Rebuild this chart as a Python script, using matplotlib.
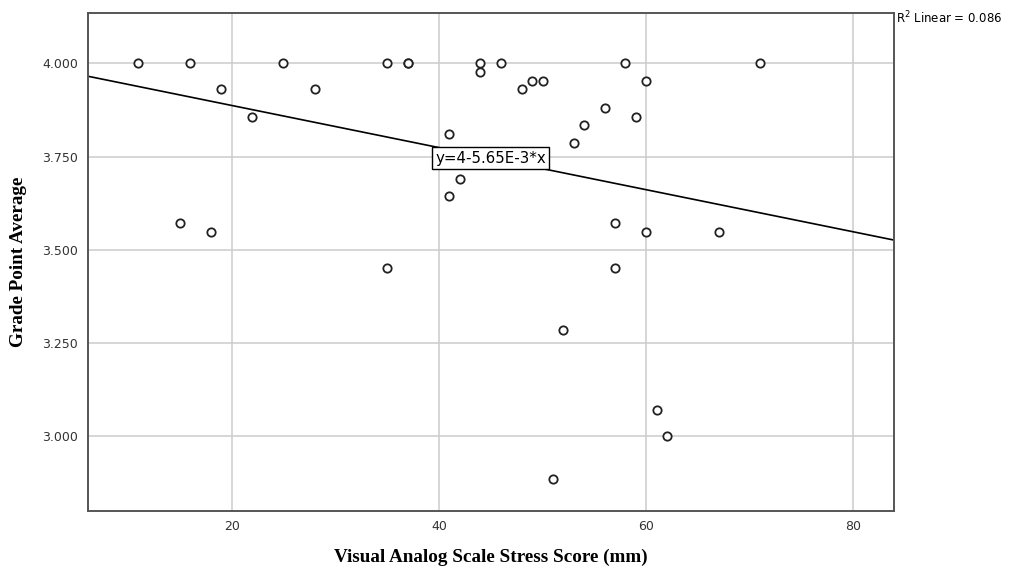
import numpy as np
import matplotlib
matplotlib.use("Agg")
import matplotlib.pyplot as plt
from matplotlib.ticker import FormatStrFormatter

# stress score (mm) and GPA
stress = [11, 16, 19, 22, 25, 28, 15, 18, 35, 37, 37, 35,
          44, 44, 46, 41, 42, 41, 48, 49, 50, 53, 54, 56,
          58, 60, 59, 57, 60, 57, 67, 71, 52, 61, 62, 51]
gpa = [4.000, 4.000, 3.930, 3.857, 4.000, 3.930, 3.571, 3.548, 4.000, 4.000, 4.000, 3.452,
       4.000, 3.976, 4.000, 3.810, 3.690, 3.643, 3.930, 3.952, 3.952, 3.786, 3.834, 3.881,
       4.000, 3.952, 3.857, 3.571, 3.548, 3.452, 3.548, 4.000, 3.286, 3.070, 3.000, 2.884]

# linear fit shown on the chart
intercept = 4.0
slope = -5.65e-3
r2 = 0.086

xticks = [20, 40, 60, 80]
yticks = [3.0, 3.25, 3.5, 3.75, 4.0]

fig = plt.figure(figsize=(10.12, 5.69), dpi=100)
ax = fig.add_axes([0.087, 0.1025, 0.796, 0.874])

ax.set_xlim(6.14, 83.88)
ax.set_ylim(2.80, 4.134)
ax.set_xticks(xticks)
ax.set_yticks(yticks)
ax.yaxis.set_major_formatter(FormatStrFormatter('%.3f'))
ax.grid(True, color='#cccccc', lw=1.1)
ax.set_axisbelow(True)
ax.tick_params(length=0, labelsize=9, labelcolor='#333333', pad=7)

for s in ax.spines.values():
    s.set_color('#555555')
    s.set_linewidth(1.4)

# fit line
xl = np.array(ax.get_xlim())
ax.plot(xl, intercept + slope * xl, color='black', lw=1.2, zorder=2)

ax.plot(stress, gpa, 'o', ms=6, mfc='white', mec='#222222', mew=1.3, zorder=3)

ax.text(45.0, 3.746, 'y=4-5.65E-3*x', ha='center', va='center', fontsize=10.8, zorder=4,
        bbox=dict(boxstyle='square,pad=0.22', fc='white', ec='black', lw=1))

fig.text(0.885, 0.953, r'R$^2$ Linear = %.3f' % r2, fontsize=8.5, ha='left', va='bottom')

ax.set_xlabel('Visual Analog Scale Stress Score (mm)', family='Liberation Serif',
              fontweight='bold', fontsize=13.8, labelpad=11)
ax.set_ylabel('Grade Point Average', family='Liberation Serif',
              fontweight='bold', fontsize=13.8, labelpad=11)

fig.savefig('out.png', dpi=100)
